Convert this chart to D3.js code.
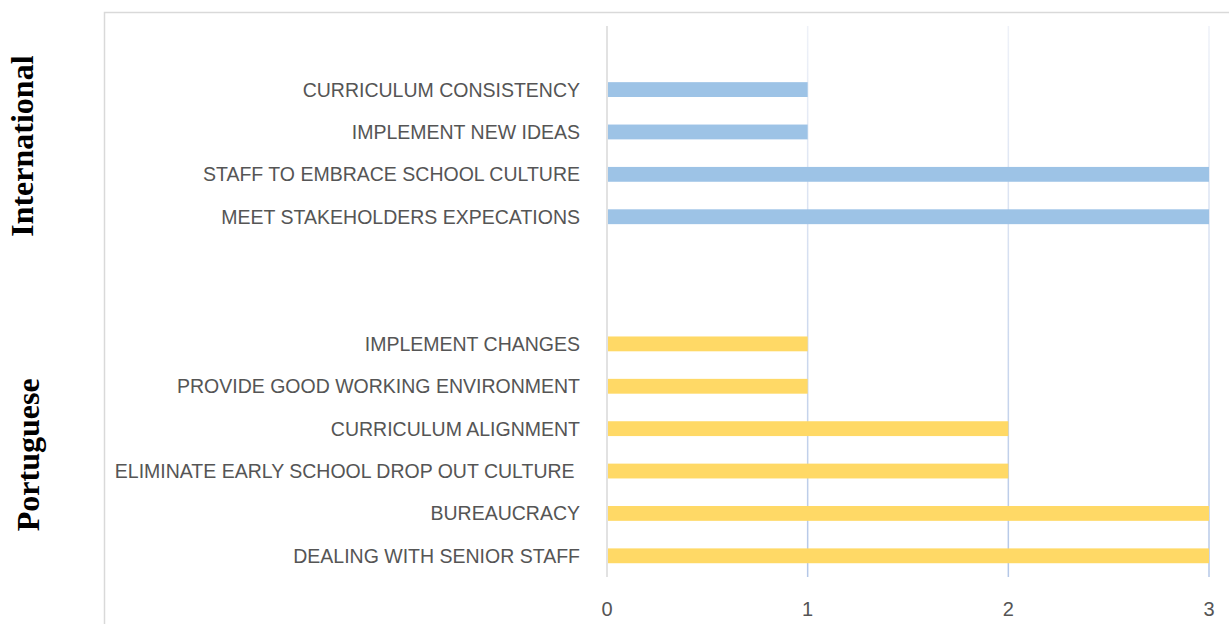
<!DOCTYPE html>
<html>
<head>
<meta charset="utf-8">
<script src="https://cdn.jsdelivr.net/npm/d3@7"></script>
<style>
  html, body { margin: 0; padding: 0; background: #fff; }
  svg { display: block; }
</style>
</head>
<body>
<div id="chart"></div>
<script>
// values
const groups = ['International', 'Portuguese'];
const intlLabels = [
  'CURRICULUM CONSISTENCY',
  'IMPLEMENT NEW IDEAS',
  'STAFF TO EMBRACE SCHOOL CULTURE',
  'MEET STAKEHOLDERS EXPECATIONS',
];
const intlValues = [1, 1, 3, 3];
const portLabels = [
  'IMPLEMENT CHANGES',
  'PROVIDE GOOD WORKING ENVIRONMENT',
  'CURRICULUM ALIGNMENT',
  'ELIMINATE EARLY SCHOOL DROP OUT CULTURE ',
  'BUREAUCRACY',
  'DEALING WITH SENIOR STAFF',
];
const portValues = [1, 1, 2, 2, 3, 3];
const xTicks = [0, 1, 2, 3];

const W = 1229, H = 624;
const colors = { International: '#9DC3E6', Portuguese: '#FFD966' };

// rows top to bottom, with the empty slots Excel left in the category axis
const rows = [{ key: 'gap0' }];
intlLabels.forEach((l, i) => rows.push({ key: 'i' + i, label: l, value: intlValues[i], group: 'International' }));
rows.push({ key: 'gap1' }, { key: 'gap2' });
portLabels.forEach((l, i) => rows.push({ key: 'p' + i, label: l, value: portValues[i], group: 'Portuguese' }));

const plot = { left: 607, right: 1209, top: 26, bottom: 577 };

const x = d3.scaleLinear().domain([0, 3]).range([plot.left, plot.right]);
const y = d3.scaleBand()
  .domain(rows.map((r) => r.key))
  .range([plot.top, plot.bottom])
  .paddingInner(0.65)
  .paddingOuter(0.325);

const svg = d3.select('#chart').append('svg')
  .attr('width', W)
  .attr('height', H);

// gradient for the gridlines (light at top, blue-grey at bottom)
const grad = svg.append('defs').append('linearGradient')
  .attr('id', 'gridGrad')
  .attr('gradientUnits', 'userSpaceOnUse')
  .attr('x1', 0).attr('x2', 0)
  .attr('y1', plot.top).attr('y2', plot.bottom);
grad.append('stop').attr('offset', '0%').attr('stop-color', '#eef1f8');
grad.append('stop').attr('offset', '100%').attr('stop-color', '#b4c7e7');

// chart frame
svg.append('rect')
  .attr('x', 104.5).attr('y', 12.5)
  .attr('width', 1300).attr('height', 700)
  .attr('fill', 'none')
  .attr('stroke', '#d9d9d9')
  .attr('stroke-width', 1.5);

// gridlines
svg.append('g')
  .selectAll('line')
  .data(xTicks.filter((t) => t > 0))
  .join('line')
  .attr('x1', (d) => x(d)).attr('x2', (d) => x(d))
  .attr('y1', plot.top).attr('y2', plot.bottom)
  .attr('stroke', 'url(#gridGrad)')
  .attr('stroke-width', 1.5);

// bars
const data = rows.filter((r) => r.label);
svg.append('g')
  .selectAll('rect')
  .data(data)
  .join('rect')
  .attr('x', x(0) + 1)
  .attr('y', (d) => y(d.key))
  .attr('width', (d) => x(d.value) - x(0) - 1)
  .attr('height', y.bandwidth())
  .attr('fill', (d) => colors[d.group]);

// vertical axis line
svg.append('line')
  .attr('x1', x(0)).attr('x2', x(0))
  .attr('y1', plot.top).attr('y2', plot.bottom)
  .attr('stroke', '#d9d9d9')
  .attr('stroke-width', 1.5);

// category labels
svg.append('g')
  .attr('font-family', 'Liberation Sans, Arial, sans-serif')
  .attr('font-size', 19.5)
  .attr('fill', '#555')
  .attr('text-anchor', 'end')
  .selectAll('text')
  .data(data)
  .join('text')
  .style('white-space', 'pre')
  .attr('x', 580)
  .attr('y', (d) => y(d.key) + y.bandwidth() / 2)
  .attr('dy', '0.36em')
  .text((d) => d.label);

// x tick labels
svg.append('g')
  .attr('font-family', 'Liberation Sans, Arial, sans-serif')
  .attr('font-size', 20)
  .attr('fill', '#555')
  .attr('text-anchor', 'middle')
  .selectAll('text')
  .data(xTicks)
  .join('text')
  .attr('x', (d) => x(d))
  .attr('y', 616)
  .text((d) => d);

// group labels, rotated
const groupMid = (g) => {
  const keys = data.filter((d) => d.group === g).map((d) => y(d.key) + y.bandwidth() / 2);
  return (d3.min(keys) + d3.max(keys)) / 2;
};
const groupPos = { International: { x: 33, dy: -7 }, Portuguese: { x: 39, dy: 5 } };

svg.append('g')
  .attr('font-family', 'Liberation Serif, Times New Roman, serif')
  .attr('font-weight', 'bold')
  .attr('font-size', 32)
  .attr('fill', '#000')
  .attr('text-anchor', 'middle')
  .selectAll('text')
  .data(groups)
  .join('text')
  .attr('transform', (g) => `translate(${groupPos[g].x},${groupMid(g) + groupPos[g].dy}) rotate(-90)`)
  .text((g) => g);
</script>
</body>
</html>
